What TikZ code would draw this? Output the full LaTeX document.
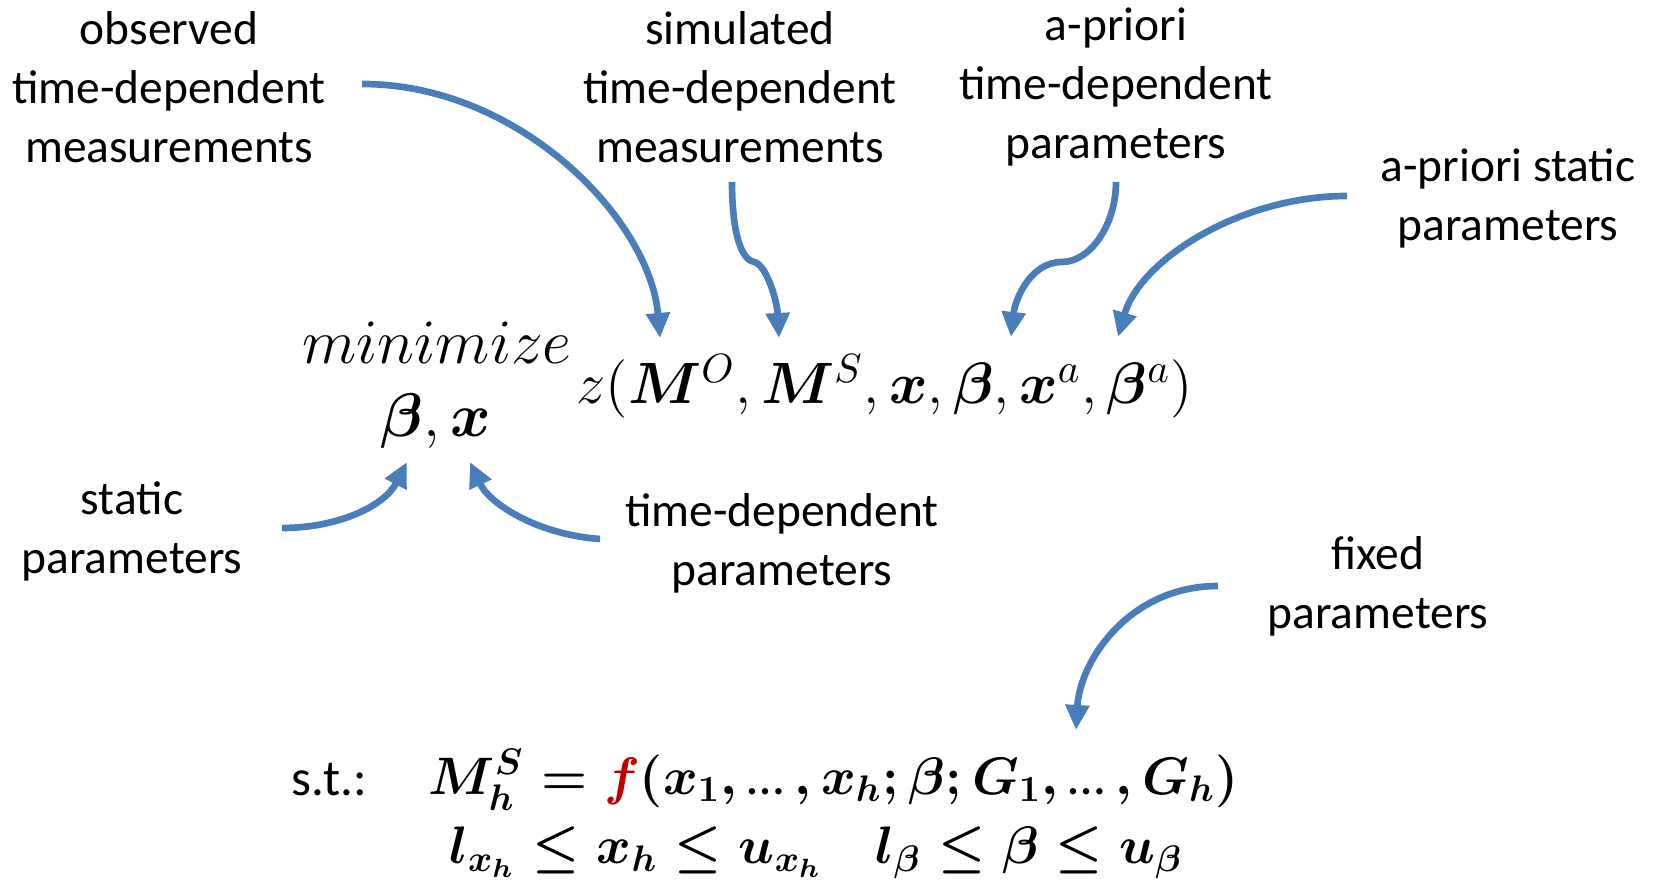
\RequirePackage{fix-cm}
\documentclass[tikz,border=0pt]{standalone}
\usepackage{amsmath,bm}
\usepackage[no-math]{fontspec}
\setmainfont{Carlito}
\usetikzlibrary{arrows.meta}
\definecolor{arrowblue}{HTML}{4A7EBB}
\definecolor{fred}{HTML}{C00000}
\newcommand{\tdots}{\mathinner{\text{\unboldmath…}}}

\begin{document}
\begin{tikzpicture}[
    x=0.01cm, y=-0.01cm,
    desc/.style={align=center, inner sep=0pt, font=\fontsize{13.5}{16.8}\selectfont},
    formula/.style={inner sep=0pt, font=\fontsize{16.6}{20}\selectfont},
    bold formula/.style={inner sep=0pt, font=\fontsize{15}{18}\selectfont\boldmath},
    pointer/.style={-{Triangle[length=2.5mm,width=2.3mm]}, line width=1.9pt, arrowblue}
]
    \useasboundingbox (0,0) rectangle (1657,892);

    % descriptions
    \node[desc] (obs) at (169,87) {observed\\time-dependent\\measurements};
    \node[desc] (sim) at (740,87) {simulated\\time-dependent\\measurements};
    \node[desc] (aptd) at (1116,87) {a-priori\\time-dependent\\parameters};
    \node[desc] (aps) at (1508,198) {a-priori static\\parameters};
    \node[desc] (stat) at (132,531) {static\\parameters};
    \node[desc] (tdp) at (782,543) {time-dependent\\parameters};
    \node[desc] (fix) at (1378,586) {fixed\\parameters};

    % problem
    \node[formula, font=\fontsize{18}{22}\selectfont] (minw) at (437,343) {$minimize$};
    \node[formula, font=\fontsize{17.5}{21}\selectfont] (minv) at (436,421) {$\bm{\beta},\bm{x}$};
    \node[formula, anchor=west] (obj) at (576,386)
        {$z(\bm{M}^{O},\bm{M}^{S},\bm{x},\bm{\beta},\bm{x}^{a},\bm{\beta}^{a})$};
    \node[desc, anchor=west, font=\fontsize{14.5}{17}\selectfont] (st) at (291,780) {s.t.:};
    \node[bold formula, anchor=west] (con1) at (428,780)
        {$M_h^S=\textcolor{fred}{f}(x_1,\tdots,x_h;\beta;G_1,\tdots,G_h)$};
    \node[bold formula, anchor=west] (con2) at (449,853)
        {$l_{x_h}\le x_h\le u_{x_h}\quad l_{\beta}\le\beta\le u_{\beta}$};

    % arrow ends
    \coordinate (obsA) at (362,84);
    \coordinate (obsB) at (660,338);
    \coordinate (simA) at (732,182);
    \coordinate (simK) at (754,262);
    \coordinate (simB) at (779,338);
    \coordinate (aptdA) at (1116,182);
    \coordinate (aptdK) at (1062,262);
    \coordinate (aptdB) at (1011,337);
    \coordinate (apsA) at (1347,196);
    \coordinate (apsB) at (1118,337);
    \coordinate (statA) at (282,528);
    \coordinate (statB) at (407,462);
    \coordinate (tdpA) at (600,539);
    \coordinate (tdpB) at (470,462);
    \coordinate (fixA) at (1218,586);
    \coordinate (fixB) at (1076,730);

    \draw[pointer] (obsA) .. controls (520,84) and (650,220) .. (obsB);
    \draw[pointer] (simA) .. controls (732,235) and (742,260) .. (simK)
        .. controls (766,264) and (777,300) .. (simB);
    \draw[pointer] (aptdA) .. controls (1116,225) and (1090,262) .. (aptdK)
        .. controls (1030,262) and (1015,300) .. (aptdB);
    \draw[pointer] (apsA) .. controls (1240,196) and (1140,260) .. (apsB);
    \draw[pointer] (statA) .. controls (340,528) and (385,505) .. (statB);
    \draw[pointer] (tdpA) .. controls (540,535) and (490,505) .. (tdpB);
    \draw[pointer] (fixA) .. controls (1130,586) and (1080,660) .. (fixB);
\end{tikzpicture}
\end{document}
